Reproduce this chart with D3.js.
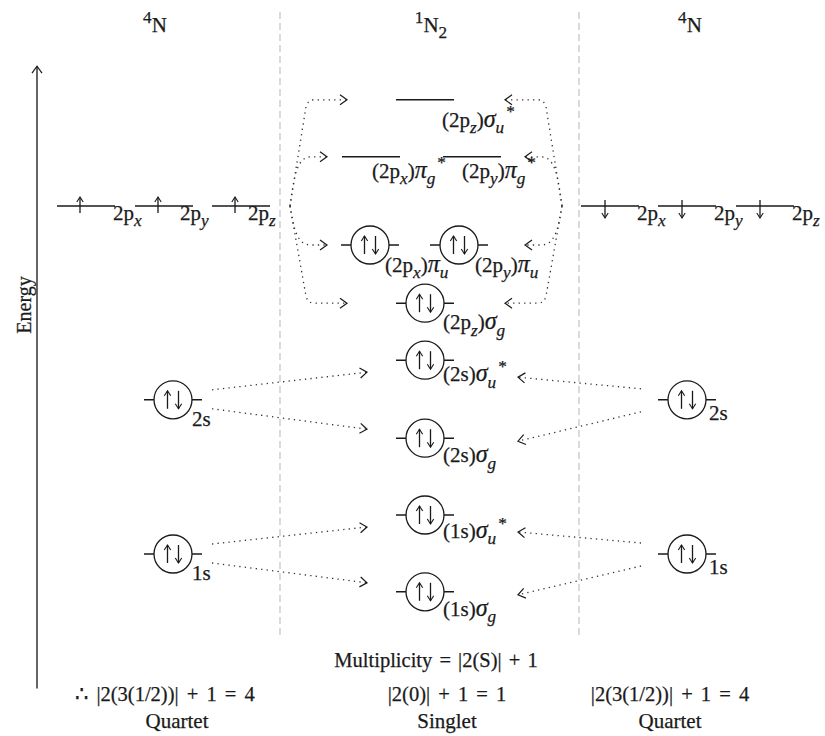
<!DOCTYPE html>
<html>
<head>
<meta charset="utf-8">
<script src="https://cdnjs.cloudflare.com/ajax/libs/d3/7.8.5/d3.min.js"></script>
<style>
  body { margin: 0; background: #fff; }
  svg { display: block; }
  text { font-family: "Liberation Serif", "Times New Roman", serif; fill: #1a1a1a;
         stroke: #1a1a1a; stroke-width: 0.25; }
</style>
</head>
<body>
<svg id="chart" width="825" height="736"></svg>
<script>
// --- data: energies are in arbitrary units, read off the height of each level ---
// atomic orbitals of one N atom ('_' = subscript, '^' = superscript)
const atomOrbitals = ['1s', '2s', '2p_x', '2p_y', '2p_z'];
const atomEnergy = [1.6, 4.17, 7.4, 7.4, 7.4];
const leftSpins = ['ud', 'ud', 'u', 'u', 'u'];
const rightSpins = ['ud', 'ud', 'd', 'd', 'd'];

// molecular orbitals of N2
const moOrbitals = ['(1s)σ_g', '(1s)σ_u^*', '(2s)σ_g', '(2s)σ_u^*', '(2p_z)σ_g',
                    '(2p_x)π_u', '(2p_y)π_u', '(2p_x)π_g^*', '(2p_y)π_g^*', '(2p_z)σ_u^*'];
const moEnergy = [0.97, 2.25, 3.53, 4.83, 5.78, 6.75, 6.75, 8.22, 8.22, 9.17];
const moSpins = ['ud', 'ud', 'ud', 'ud', 'ud', 'ud', 'ud', '', '', ''];

// which atomic orbital feeds which MO
const sLinks = [['1s', '(1s)σ_g'], ['1s', '(1s)σ_u^*'], ['2s', '(2s)σ_g'], ['2s', '(2s)σ_u^*']];
const pLinksLeft = ['(2p_z)σ_u^*', '(2p_x)π_g^*', '(2p_x)π_u', '(2p_z)σ_g'];
const pLinksRight = ['(2p_z)σ_u^*', '(2p_y)π_g^*', '(2p_y)π_u', '(2p_z)σ_g'];

const columnTitles = ['^4N', '^1N_2', '^4N'];
const multiplicityRule = 'Multiplicity = |2(S)| + 1';
const multiplicityCalc = ['∴ |2(3(1/2))| + 1 = 4', '|2(0)| + 1 = 1', '|2(3(1/2))| + 1 = 4'];
const multiplicityName = ['Quartet', 'Singlet', 'Quartet'];

// --- layout ---
const svg = d3.select('#chart');
const y = d3.scaleLinear().domain([0, 10]).range([650, 50]);
const levelW = 58, rad = 19, fs = 21;
const ink = '#1a1a1a';

const atomX = {
  L: { '1s': 173, '2s': 173, '2p_x': 86, '2p_y': 164, '2p_z': 241 },
  R: { '1s': 687, '2s': 687, '2p_x': 610, '2p_y': 687, '2p_z': 765 }
};
// left-hand p labels sit a little further in than the right-hand ones
const leftPLabelShift = { '2p_x': 0, '2p_y': -11, '2p_z': -20 };
const moX = {
  '(1s)σ_g': 425, '(1s)σ_u^*': 425, '(2s)σ_g': 425, '(2s)σ_u^*': 425, '(2p_z)σ_g': 425,
  '(2p_x)π_u': 370, '(2p_y)π_u': 459, '(2p_x)π_g^*': 371, '(2p_y)π_g^*': 472, '(2p_z)σ_u^*': 425
};
// label offset from level centre (dx, baseline dy)
const moLabelOff = {
  '(1s)σ_g': [18, 24], '(1s)σ_u^*': [18, 23], '(2s)σ_g': [18, 24], '(2s)σ_u^*': [18, 21],
  '(2p_z)σ_g': [18, 26], '(2p_x)π_u': [15, 27], '(2p_y)π_u': [16, 27],
  '(2p_x)π_g^*': [1, 21], '(2p_y)π_g^*': [-10, 21], '(2p_z)σ_u^*': [17, 27]
};

// write a label with simple _sub / ^sup markup into a text element
function richText(sel, str, size) {
  const parts = [];
  for (let i = 0; i < str.length; i++) {
    const c = str[i];
    if (c === '_' || c === '^') {
      parts.push({ t: str[i + 1], k: c === '_' ? 'sub' : 'sup' });
      i++;
    } else {
      const k = /[α-ω]/.test(c) ? 'greek' : 'n';
      const last = parts[parts.length - 1];
      if (last && last.k === k) last.t += c;
      else parts.push({ t: c, k: k });
    }
  }
  let shift = 0;
  parts.forEach((p, j) => {
    const target = p.k === 'sub' ? size * 0.3 : p.k === 'sup' ? -size * 0.45 : 0;
    const ts = sel.append('tspan').attr('dy', target - shift).text(p.t);
    shift = target;
    if (p.k === 'sub' || p.k === 'sup') ts.attr('font-size', size * 0.82);
    if (p.k === 'sup' && j > 0 && parts[j - 1].k === 'sub') ts.attr('dx', 2);
    if (p.k === 'greek') ts.attr('font-size', size * 1.15).attr('font-style', 'italic');
    if (p.k !== 'n' && /[a-z]/.test(p.t)) ts.attr('font-style', 'italic');
  });
  return sel;
}

function chevron(g, x, yy, ang) {
  const L = 7, h = 5;
  const pts = [[-L, -h], [0, 0], [-L, h]].map(([a, b]) =>
    [x + a * Math.cos(ang) - b * Math.sin(ang), yy + a * Math.sin(ang) + b * Math.cos(ang)]);
  g.append('path').attr('d', d3.line()(pts))
    .attr('fill', 'none').attr('stroke', ink).attr('stroke-width', 1.2);
}

function spinArrow(g, x, yTop, yBot, up) {
  const tip = up ? yTop : yBot, dir = up ? 1 : -1;
  g.append('line').attr('x1', x).attr('x2', x).attr('y1', yTop).attr('y2', yBot)
    .attr('stroke', ink).attr('stroke-width', 1.3);
  g.append('path').attr('d', d3.line()([[x - 3.2, tip + dir * 5], [x, tip], [x + 3.2, tip + dir * 5]]))
    .attr('fill', 'none').attr('stroke', ink).attr('stroke-width', 1.1);
}

function drawLevel(g, cx, ly, spins) {
  g.append('line').attr('x1', cx - levelW / 2).attr('x2', cx + levelW / 2)
    .attr('y1', ly).attr('y2', ly).attr('stroke', ink).attr('stroke-width', 1.5);
  if (spins === 'ud') {
    g.append('circle').attr('cx', cx).attr('cy', ly).attr('r', rad)
      .attr('fill', '#fff').attr('stroke', ink).attr('stroke-width', 1.3);
    spinArrow(g, cx - 5.5, ly - 9, ly + 9, true);
    spinArrow(g, cx + 5.5, ly - 9, ly + 9, false);
  } else if (spins === 'u') {
    spinArrow(g, cx - 6, ly - 9, ly + 7, true);
  } else if (spins === 'd') {
    spinArrow(g, cx - 5, ly - 6, ly + 12, false);
  }
}

// separators
const sep = svg.append('g');
[280, 579].forEach(x => sep.append('line').attr('x1', x).attr('x2', x).attr('y1', 12).attr('y2', 636)
  .attr('stroke', '#bdbdbd').attr('stroke-width', 1.1).attr('stroke-dasharray', '7,4'));

// energy axis
const ax = svg.append('g');
ax.append('line').attr('x1', 37).attr('x2', 37).attr('y1', y(-0.64)).attr('y2', y(9.73))
  .attr('stroke', '#333').attr('stroke-width', 1.5);
chevron(ax, 37, y(9.73), -Math.PI / 2);
ax.append('text').attr('transform', 'translate(31,305) rotate(-90)')
  .attr('text-anchor', 'middle').attr('font-size', 20).text('Energy');

// titles
[155, 431, 690].forEach((x, i) => richText(svg.append('text').attr('x', x).attr('y', 32)
  .attr('text-anchor', 'middle').attr('font-size', fs), columnTitles[i], fs));

// dotted links (drawn under the levels)
const links = svg.append('g');
const dotted = p => links.append('path').attr('d', p).attr('fill', 'none').attr('stroke', '#333')
  .attr('stroke-width', 1.3).attr('stroke-dasharray', '1.3,4.2');
const eOf = name => moEnergy[moOrbitals.indexOf(name)];
const aOf = name => atomEnergy[atomOrbitals.indexOf(name)];

sLinks.forEach(([a, m]) => {
  const ya = y(aOf(a)), ym = y(eOf(m)), above = ym < ya;
  // left atom -> MO
  let x0 = atomX.L[a] + 39, y0 = ya + (above ? -10 : 9), x1 = 367, y1 = ym + (above ? 12 : -9);
  dotted(`M${x0},${y0}L${x1},${y1}`);
  chevron(links, x1, y1, Math.atan2(y1 - y0, x1 - x0));
  // right atom -> MO
  x0 = atomX.R[a] - 46; y0 = ya + (above ? -11 : 12); x1 = 518; y1 = ym + (above ? 17 : 3);
  dotted(`M${x0},${y0}L${x1},${y1}`);
  chevron(links, x1, y1, Math.atan2(y1 - y0, x1 - x0));
});

// 2p brackets, mirrored about the centre line
const mid = 426;
[[pLinksLeft, 1], [pLinksRight, -1]].forEach(([targets, s]) => {
  const mx = x => s > 0 ? x : 2 * mid - x;
  const ya = y(aOf('2p_z'));
  targets.forEach((m, i) => {
    const ym = y(eOf(m)), outer = (i === 0 || i === targets.length - 1);
    const sg = Math.sign(ym - ya);
    const p = d3.path();
    p.moveTo(mx(290), ya);
    let tipX;
    if (outer) {
      p.lineTo(mx(306), ym - sg * 7);
      p.quadraticCurveTo(mx(308), ym, mx(314), ym);
      tipX = 347;
    } else {
      p.bezierCurveTo(mx(294), ya + (ym - ya) * 0.6, mx(297), ym, mx(311), ym);
      tipX = 327;
    }
    p.lineTo(mx(tipX), ym);
    dotted(p.toString());
    chevron(links, mx(tipX), ym, s > 0 ? 0 : Math.PI);
  });
});

// atomic levels
const lev = svg.append('g');
['L', 'R'].forEach(side => {
  const spins = side === 'L' ? leftSpins : rightSpins;
  atomOrbitals.forEach((o, i) => {
    const cx = atomX[side][o], ly = y(atomEnergy[i]);
    drawLevel(lev, cx, ly, spins[i]);
    let lx, lyy;
    if (o[1] === 'p') {
      lx = cx + levelW / 2 - 2 + (side === 'L' ? leftPLabelShift[o] : 0);
      lyy = ly + 14;
    }
    else if (side === 'L') { lx = cx + 19; lyy = ly + 26; }
    else { lx = cx + 22; lyy = ly + 20; }
    richText(lev.append('text').attr('x', lx).attr('y', lyy).attr('font-size', fs), o, fs);
  });
});

// molecular levels
moOrbitals.forEach((o, i) => {
  const cx = moX[o], ly = y(moEnergy[i]);
  drawLevel(lev, cx, ly, moSpins[i]);
  const [dx, dy] = moLabelOff[o];
  richText(lev.append('text').attr('x', cx + dx).attr('y', ly + dy).attr('font-size', fs), o, fs);
});

// multiplicity notes
const notes = svg.append('g');
notes.append('text').attr('x', 436).attr('y', 667).attr('text-anchor', 'middle')
  .attr('font-size', 20.5).attr('word-spacing', 2).text(multiplicityRule);
[165, 447, 670].forEach((x, i) => {
  notes.append('text').attr('x', x).attr('y', 701).attr('text-anchor', 'middle')
    .attr('font-size', 20.5).attr('word-spacing', 3).text(multiplicityCalc[i]);
  notes.append('text').attr('x', x + (i === 0 ? 12 : 0)).attr('y', 728).attr('text-anchor', 'middle')
    .attr('font-size', 21).text(multiplicityName[i]);
});
</script>
</body>
</html>
